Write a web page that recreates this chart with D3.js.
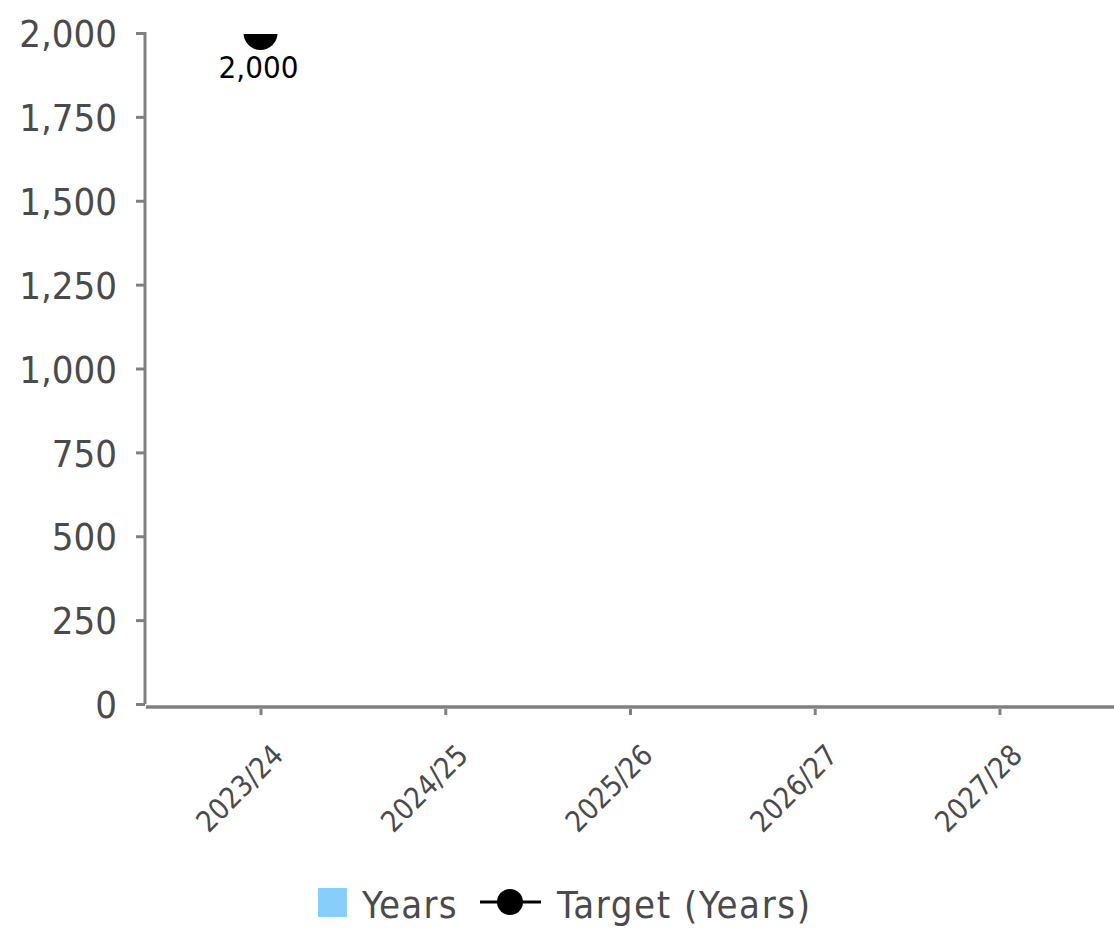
<!DOCTYPE html>
<html>
<head>
<meta charset="utf-8">
<script src="https://cdn.jsdelivr.net/npm/d3@7"></script>
<style>
  html, body { margin: 0; padding: 0; background: #ffffff; }
  svg text { font-family: "DejaVu Sans Condensed", "DejaVu Sans", sans-serif; font-stretch: condensed; }
</style>
</head>
<body>
<svg id="chart" width="1114" height="929"></svg>
<script>
// Chart data
const categories = ["2023/24", "2024/25", "2025/26", "2026/27", "2027/28"];
const yearsValues = [null, null, null, null, null];
const targetValues = [2000, null, null, null, null];
const yTicks = [0, 250, 500, 750, 1000, 1250, 1500, 1750, 2000];
const legendItems = ["Years", "Target (Years)"];

const svg = d3.select("#chart");
const axisColor = "#808080";
const textColor = "#4a4a4a";

const plot = { left: 146, right: 1114, top: 33, bottom: 704 };

const x = d3.scalePoint()
  .domain(categories)
  .range([plot.left, plot.right])
  .padding(0.62);

const y = d3.scaleLinear()
  .domain([0, 2000])
  .range([plot.bottom, plot.top]);

const fmt = d3.format(",");

svg.append("defs").append("clipPath").attr("id", "plot-clip")
  .append("rect")
  .attr("x", plot.left)
  .attr("y", plot.top + 1)
  .attr("width", plot.right - plot.left)
  .attr("height", plot.bottom - plot.top + 6);

// Bars for the "Years" series
const bw = 40;
svg.append("g").attr("clip-path", "url(#plot-clip)")
  .selectAll("rect")
  .data(categories.map((c, i) => ({ c, v: yearsValues[i] })).filter(d => d.v != null))
  .join("rect")
  .attr("x", d => x(d.c) - bw / 2)
  .attr("y", d => y(d.v))
  .attr("width", bw)
  .attr("height", d => y(0) - y(d.v))
  .attr("fill", "#87CEFA");

// Y axis
const yAxis = d3.axisLeft(y)
  .tickValues(yTicks)
  .tickFormat(fmt)
  .tickSize(9)
  .tickPadding(19);

const gy = svg.append("g")
  .attr("transform", `translate(${plot.left - 1},0)`)
  .call(yAxis);
gy.select(".domain")
  .attr("d", `M0,${plot.top - 1}V${plot.bottom}`)
  .attr("stroke", axisColor).attr("stroke-width", 3);
gy.selectAll(".tick line").attr("stroke", axisColor).attr("stroke-width", 3);
gy.selectAll(".tick text")
  .attr("fill", textColor)
  .style("font-size", "38px")
  .attr("dy", "0.36em");

// X axis
const xAxis = d3.axisBottom(x).tickSize(8).tickSizeOuter(0);
const gx = svg.append("g")
  .attr("transform", `translate(0,${plot.bottom + 3})`)
  .call(xAxis);
gx.select(".domain")
  .attr("d", `M${plot.left},0H${plot.right}`)
  .attr("stroke", axisColor).attr("stroke-width", 3.5);
gx.selectAll(".tick line").attr("stroke", axisColor).attr("stroke-width", 3).attr("y1", 2);
gx.selectAll(".tick text")
  .attr("fill", textColor)
  .style("font-size", "29px")
  .attr("text-anchor", "end")
  .attr("y", 0).attr("dy", 0)
  .attr("transform", "translate(24,50) rotate(-45)");

// Target series: line + markers (clipped to plot area)
const targetPts = categories.map((c, i) => ({ c, v: targetValues[i] })).filter(d => d.v != null);
const gT = svg.append("g").attr("clip-path", "url(#plot-clip)");
gT.append("path")
  .datum(targetPts)
  .attr("fill", "none")
  .attr("stroke", "#000")
  .attr("stroke-width", 3)
  .attr("d", d3.line().x(d => x(d.c)).y(d => y(d.v)));
gT.selectAll("circle")
  .data(targetPts)
  .join("circle")
  .attr("cx", d => x(d.c))
  .attr("cy", d => y(d.v))
  .attr("r", 17)
  .attr("fill", "#000");

// Value labels for target points
svg.append("g")
  .selectAll("text")
  .data(targetPts)
  .join("text")
  .attr("x", d => x(d.c) - 2)
  .attr("y", d => y(d.v) + 45)
  .attr("text-anchor", "middle")
  .attr("fill", "#000")
  .style("font-size", "31px")
  .text(d => fmt(d.v));

// Legend
const lg = svg.append("g");
lg.append("rect")
  .attr("x", 318).attr("y", 888).attr("width", 29).attr("height", 29)
  .attr("fill", "#87CEFA");
lg.append("text")
  .attr("x", 362).attr("y", 918)
  .attr("fill", textColor).style("font-size", "38px")
  .style("letter-spacing", "1.2px")
  .text(legendItems[0]);
lg.append("line")
  .attr("x1", 480).attr("x2", 541).attr("y1", 902).attr("y2", 902)
  .attr("stroke", "#000").attr("stroke-width", 3);
lg.append("circle")
  .attr("cx", 510).attr("cy", 902).attr("r", 13).attr("fill", "#000");
lg.append("text")
  .attr("x", 557).attr("y", 918)
  .attr("fill", textColor).style("font-size", "38px")
  .style("letter-spacing", "1.6px")
  .text(legendItems[1]);
</script>
</body>
</html>
